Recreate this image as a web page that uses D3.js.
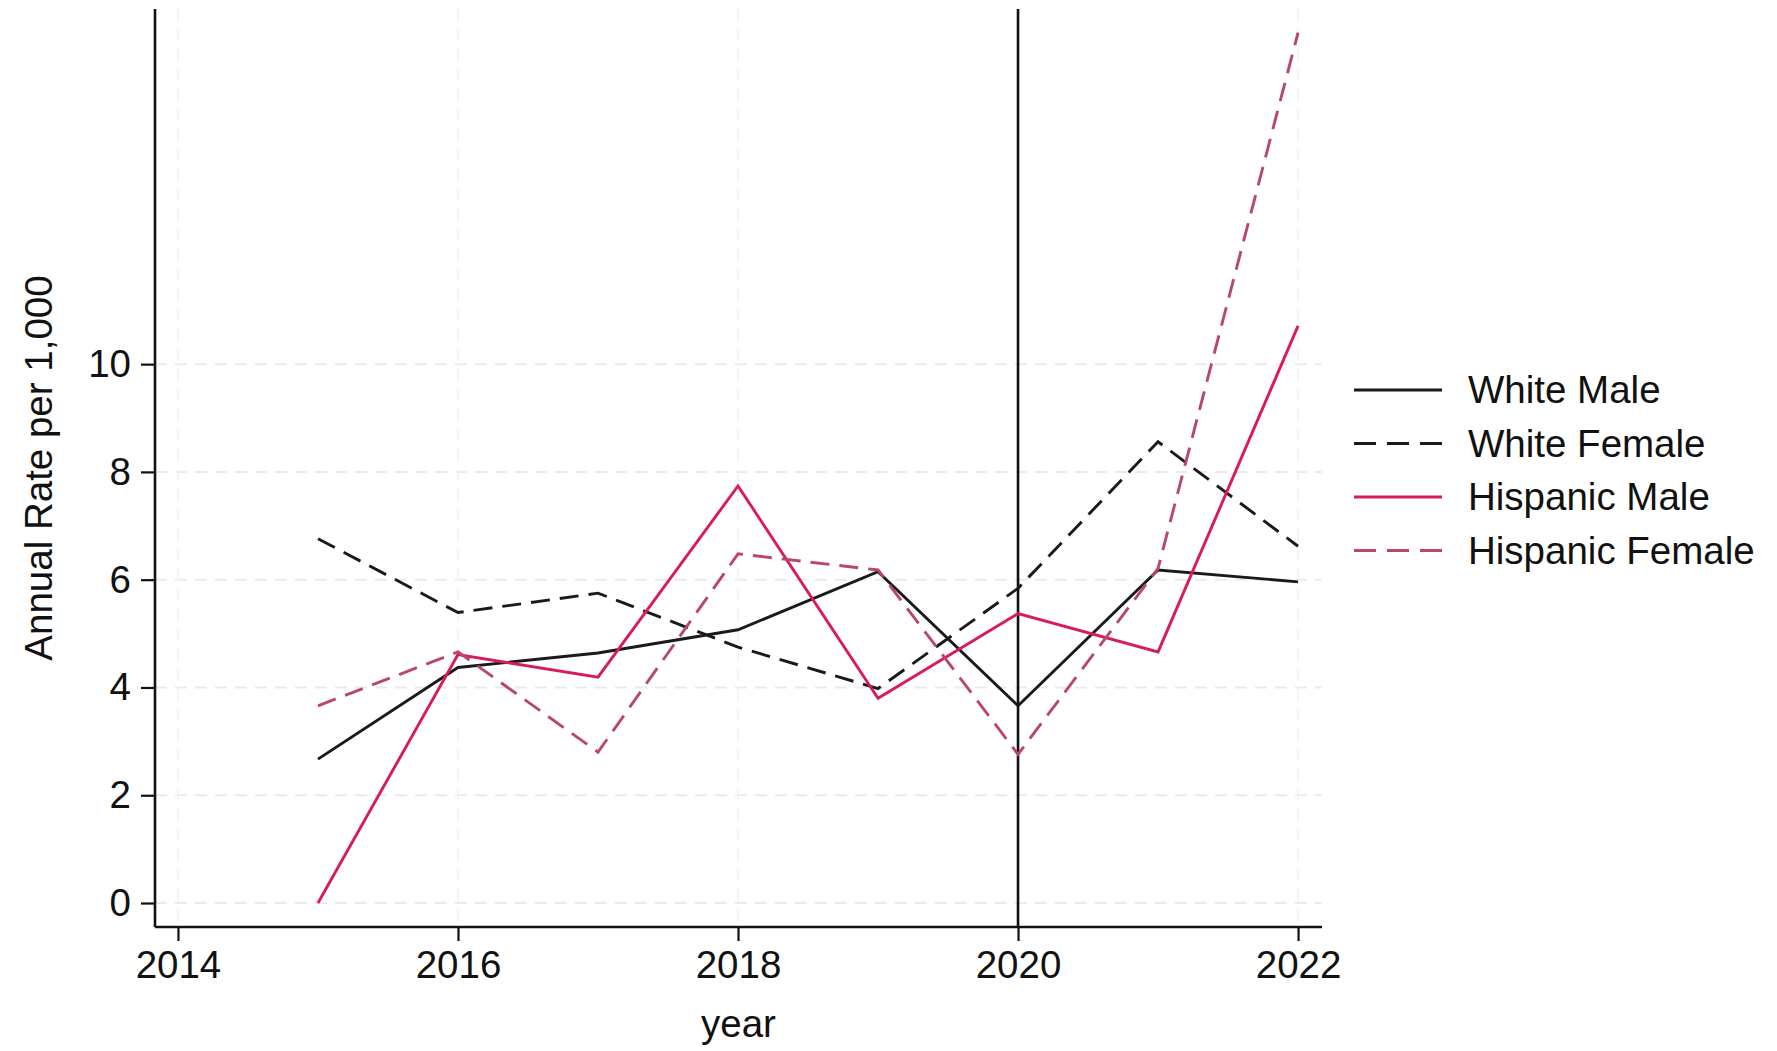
<!DOCTYPE html>
<html>
<head>
<meta charset="utf-8">
<script src="https://cdn.jsdelivr.net/npm/d3@7"></script>
<style>
  html, body { margin: 0; padding: 0; background: #fff; }
  svg { display: block; font-family: "Liberation Sans", Arial, Helvetica, sans-serif; }
</style>
</head>
<body>
<svg id="chart" width="1777" height="1051"></svg>
<script>
const years = [2015, 2016, 2017, 2018, 2019, 2020, 2021, 2022];
const xTicks = [2014, 2016, 2018, 2020, 2022];
const yTicks = [0, 2, 4, 6, 8, 10];
const seriesNames = ["White Male", "White Female", "Hispanic Male", "Hispanic Female"];
const whiteMale      = [2.67, 4.37, 4.64, 5.07, 6.15, 3.66, 6.18, 5.96];
const whiteFemale    = [6.76, 5.39, 5.75, 4.75, 3.98, 5.84, 8.56, 6.62];
const hispanicMale   = [0.00, 4.61, 4.19, 7.74, 3.80, 5.37, 4.66, 10.71];
const hispanicFemale = [3.66, 4.66, 2.80, 6.48, 6.18, 2.76, 6.21, 16.15];
const markerYear = 2020;
const xTitle = "year";
const yTitle = "Annual Rate per 1,000";

const styles = [
  { color: "#1a1a1a", dash: null },
  { color: "#1a1a1a", dash: "19,10" },
  { color: "#d81b5e", dash: null },
  { color: "#b8476f", dash: "19,10" }
];
const seriesValues = [whiteMale, whiteFemale, hispanicMale, hispanicFemale];

const svg = d3.select("#chart");
const plot = { left: 155, right: 1322, top: 9, bottom: 927 };

const x = d3.scaleLinear().domain([2013.836, 2022.171]).range([plot.left, plot.right]);
const y = d3.scaleLinear().domain([-0.445, 16.59]).range([plot.bottom, plot.top]);

const fontSize = 38.5;

// gridlines
const grid = svg.append("g");
grid.selectAll("line.h").data(yTicks).enter().append("line")
  .attr("x1", plot.left).attr("x2", plot.right)
  .attr("y1", d => y(d)).attr("y2", d => y(d))
  .attr("stroke", "#ebebeb").attr("stroke-width", 2).attr("stroke-dasharray", "12,8");
grid.selectAll("line.v").data(xTicks).enter().append("line")
  .attr("x1", d => x(d)).attr("x2", d => x(d))
  .attr("y1", plot.top).attr("y2", plot.bottom)
  .attr("stroke", "#f4f4f4").attr("stroke-width", 2).attr("stroke-dasharray", "12,8");

// axes
const xAxis = d3.axisBottom(x).tickValues(xTicks).tickFormat(d3.format("d")).tickSizeOuter(0).tickSize(14).tickPadding(10);
const yAxis = d3.axisLeft(y).tickValues(yTicks).tickFormat(d3.format("d")).tickSizeOuter(0).tickSize(14).tickPadding(10);

const gx = svg.append("g").attr("transform", `translate(0,${plot.bottom})`).call(xAxis);
gx.select(".domain").remove();
gx.append("line").attr("x1", plot.left).attr("x2", plot.right).attr("y1", 0).attr("y2", 0)
  .attr("stroke", "#111").attr("stroke-width", 2.6);
gx.selectAll(".tick line").attr("stroke", "#111").attr("stroke-width", 2.2);
gx.selectAll(".tick text").attr("font-size", fontSize).attr("fill", "#111").attr("font-family", "Liberation Sans, Arial, sans-serif");

const gy = svg.append("g").attr("transform", `translate(${plot.left},0)`).call(yAxis);
gy.select(".domain").remove();
gy.append("line").attr("x1", 0).attr("x2", 0).attr("y1", plot.top).attr("y2", plot.bottom)
  .attr("stroke", "#111").attr("stroke-width", 2.6);
gy.selectAll(".tick line").attr("stroke", "#111").attr("stroke-width", 2.2);
gy.selectAll(".tick text").attr("font-size", fontSize).attr("fill", "#111").attr("font-family", "Liberation Sans, Arial, sans-serif");

// vertical marker line
svg.append("line")
  .attr("x1", x(markerYear)).attr("x2", x(markerYear))
  .attr("y1", plot.top).attr("y2", plot.bottom)
  .attr("stroke", "#111").attr("stroke-width", 2.6);

// series
const line = d3.line().x((d, i) => x(years[i])).y(d => y(d));
seriesValues.forEach((vals, k) => {
  svg.append("path")
    .datum(vals)
    .attr("d", line)
    .attr("fill", "none")
    .attr("stroke", styles[k].color)
    .attr("stroke-width", 2.9)
    .attr("stroke-linejoin", "miter")
    .attr("stroke-dasharray", styles[k].dash);
});

// axis titles
svg.append("text")
  .attr("x", (plot.left + plot.right) / 2).attr("y", 1037)
  .attr("text-anchor", "middle").attr("font-size", fontSize).attr("fill", "#111")
  .text(xTitle);
svg.append("text")
  .attr("transform", `translate(52,${(plot.top + plot.bottom) / 2}) rotate(-90)`)
  .attr("text-anchor", "middle").attr("font-size", fontSize).attr("fill", "#111")
  .text(yTitle);

// legend
const legend = svg.append("g").attr("transform", "translate(1354,390)");
seriesNames.forEach((name, k) => {
  const g = legend.append("g").attr("transform", `translate(0,${k * 53.5})`);
  g.append("line").attr("x1", 0).attr("x2", 88).attr("y1", 0).attr("y2", 0)
    .attr("stroke", styles[k].color).attr("stroke-width", 2.9)
    .attr("stroke-dasharray", styles[k].dash ? "22,11" : null);
  g.append("text").attr("x", 114).attr("y", 0).attr("dy", "0.35em")
    .attr("font-size", fontSize).attr("fill", "#111").text(name);
});
</script>
</body>
</html>
